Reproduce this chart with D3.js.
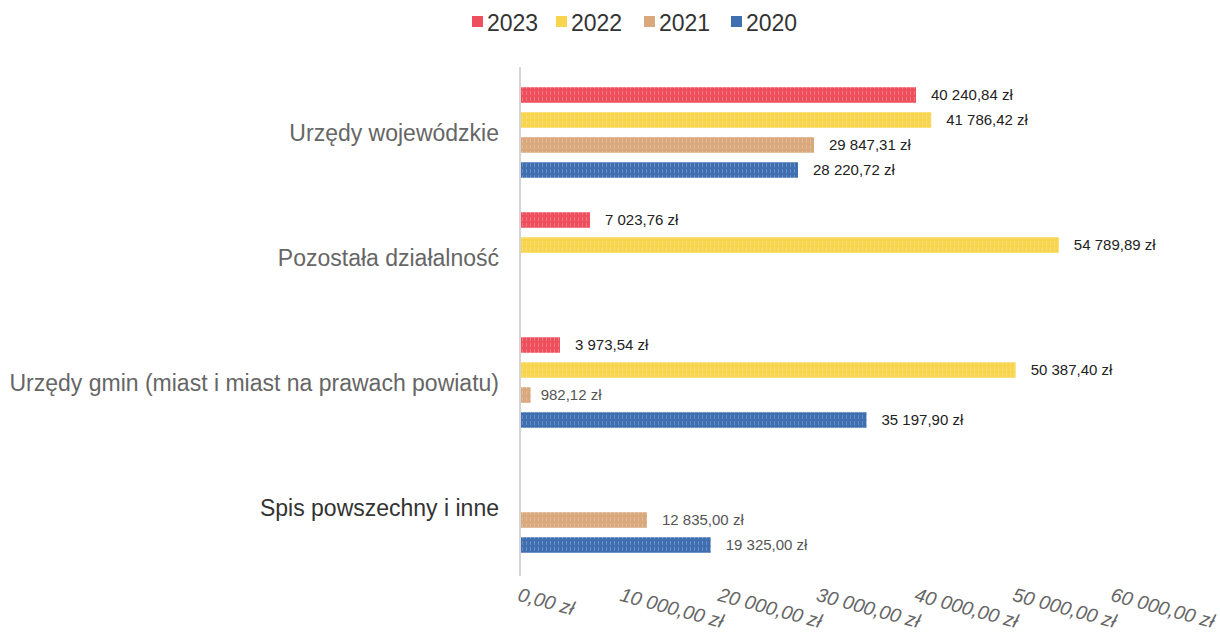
<!DOCTYPE html>
<html>
<head>
<meta charset="utf-8">
<script src="https://cdn.jsdelivr.net/npm/d3@7"></script>
<style>
  body { margin: 0; background: #fff; }
  text { font-family: "Liberation Sans", Arial, sans-serif; }
</style>
</head>
<body>
<svg id="chart" width="1220" height="634"></svg>
<script>
var categories = ["Urzędy wojewódzkie", "Pozostała działalność", "Urzędy gmin (miast i miast na prawach powiatu)", "Spis powszechny i inne"];
var years = ["2023", "2022", "2021", "2020"];
var colors = ["#ee4f5d", "#f8d54e", "#d9a87c", "#3f6fb1"];
// values per year, in category order (null = no bar)
var v2023 = [40240.84, 7023.76, 3973.54, null];
var v2022 = [41786.42, 54789.89, 50387.40, null];
var v2021 = [29847.31, null, 982.12, 12835.00];
var v2020 = [28220.72, null, 35197.90, 19325.00];
var ticks = [0, 10000, 20000, 30000, 40000, 50000, 60000];

var series = [v2023, v2022, v2021, v2020];

var svg = d3.select("#chart");
var plotLeft = 521, plotRight = 1110, plotTop = 70, plotBottom = 570;

var fmt = function(v){
  var s = v.toFixed(2).split(".");
  var intPart = s[0].replace(/\B(?=(\d{3})+(?!\d))/g, " ");
  return intPart + "," + s[1] + " zł";
};

var x = d3.scaleLinear().domain([0, 60000]).range([plotLeft, plotRight]);
var y = d3.scaleBand().domain(categories).range([plotTop, plotBottom]);
var yInner = d3.scaleBand().domain(years)
    .range([12.5, y.bandwidth() - 12.5])
    .paddingInner(0.38).paddingOuter(0.19);

// light stripe pattern to mimic the scanned texture
var defs = svg.append("defs");
years.forEach(function(yr, i){
  var p = defs.append("pattern")
      .attr("id", "pat" + yr)
      .attr("patternUnits", "userSpaceOnUse")
      .attr("width", 4).attr("height", 6);
  p.append("rect").attr("width", 4).attr("height", 6).attr("fill", colors[i]);
  p.append("rect").attr("x", 2).attr("y", 1).attr("width", 1).attr("height", 4)
      .attr("fill", "#fff").attr("opacity", 0.22);
});

// legend
var lx = [472, 556, 644, 731];
var legend = svg.append("g");
years.forEach(function(yr, i){
  legend.append("rect").attr("x", lx[i]).attr("y", 16).attr("width", 11).attr("height", 11)
      .attr("fill", colors[i]);
  legend.append("text").attr("x", lx[i] + 15).attr("y", 31)
      .attr("font-size", 23).attr("fill", "#333").text(yr);
});

// bars
var rows = [];
categories.forEach(function(c, ci){
  years.forEach(function(yr, si){
    var v = series[si][ci];
    if (v !== null) rows.push({cat: c, year: yr, si: si, value: v});
  });
});

var g = svg.append("g");
g.selectAll("rect.bar").data(rows).enter().append("rect")
    .attr("class", "bar")
    .attr("x", x(0))
    .attr("y", function(d){ return y(d.cat) + yInner(d.year); })
    .attr("width", function(d){ return x(d.value) - x(0); })
    .attr("height", yInner.bandwidth())
    .attr("fill", function(d){ return "url(#pat" + d.year + ")"; });

g.selectAll("text.val").data(rows).enter().append("text")
    .attr("class", "val")
    .attr("x", function(d){ return x(d.value) + (d.value < 2000 ? 10 : 15); })
    .attr("y", function(d){ return y(d.cat) + yInner(d.year) + yInner.bandwidth() / 2; })
    .attr("dy", "0.35em")
    .attr("font-size", 15)
    .attr("fill", function(d){ return d.cat === categories[3] || d.value < 2000 ? "#555" : "#222"; })
    .text(function(d){ return fmt(d.value); });

// vertical axis line
svg.append("line").attr("x1", x(0) - 1).attr("x2", x(0) - 1)
    .attr("y1", 67).attr("y2", 576)
    .attr("stroke", "#d4d4d4").attr("stroke-width", 2);

// category labels
svg.selectAll("text.cat").data(categories).enter().append("text")
    .attr("class", "cat")
    .attr("x", 499)
    .attr("y", function(d){ return y(d) + y.bandwidth() / 2; })
    .attr("dy", "0.35em")
    .attr("text-anchor", "end")
    .attr("font-size", 23)
    .attr("fill", function(d, i){ return i === 3 ? "#333" : "#666"; })
    .text(function(d){ return d; });

// x tick labels, rotated
var xAxis = d3.axisBottom(x).tickValues(ticks).tickSize(0).tickFormat(fmt);
var gx = svg.append("g").attr("transform", "translate(0,594)").call(xAxis);
gx.select(".domain").remove();
gx.selectAll("text")
    .attr("font-family", "'Liberation Sans', Arial, sans-serif")
    .attr("font-size", 19.5)
    .attr("font-style", "italic")
    .attr("fill", "#666")
    .attr("text-anchor", "start")
    .attr("dy", "0.35em")
    .attr("y", 0)
    .attr("transform", function(d){ return "translate(" + (d === 0 ? -3 : 1) + ",0) rotate(15)"; });
</script>
</body>
</html>
